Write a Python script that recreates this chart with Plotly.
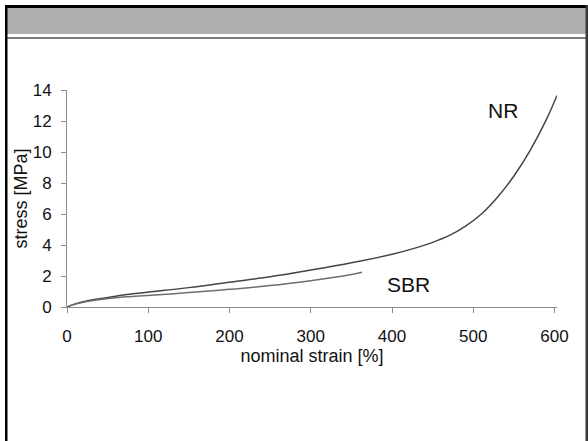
import plotly.graph_objects as go

# Data
nr_strain = [0, 10, 30, 60, 94, 150, 200, 250, 300, 350, 400, 425, 450, 470, 490, 510, 530, 550, 570, 590, 603]
nr_stress = [0, 0.2, 0.45, 0.7, 0.92, 1.25, 1.6, 1.95, 2.38, 2.85, 3.4, 3.75, 4.17, 4.6, 5.2, 6.0, 7.1, 8.45, 10.1, 12.1, 13.65]
sbr_strain = [0, 10, 30, 60, 94, 150, 200, 250, 300, 340, 363]
sbr_stress = [0, 0.18, 0.4, 0.6, 0.72, 0.93, 1.14, 1.38, 1.7, 2.0, 2.24]
x_ticks = [0, 100, 200, 300, 400, 500, 600]
y_ticks = [0, 2, 4, 6, 8, 10, 12, 14]
labels = ["NR", "SBR"]
label_pos = [(537, 12.7), (420, 1.42)]

W, H = 588, 441
L, R, T, B = 67, 31, 90, 134
pw, ph = W - L - R, H - T - B


def px(x):
    return (x - L) / pw


def py(y):
    return (H - B - y) / ph


fig = go.Figure()
fig.add_trace(go.Scatter(x=nr_strain, y=nr_stress, mode="lines",
                         line=dict(color="#444444", width=1.5, shape="spline", smoothing=1),
                         showlegend=False, hoverinfo="skip"))
fig.add_trace(go.Scatter(x=sbr_strain, y=sbr_stress, mode="lines",
                         line=dict(color="#6e6e6e", width=1.5, shape="spline", smoothing=1),
                         showlegend=False, hoverinfo="skip"))

for name, (ax, ay) in zip(labels, label_pos):
    fig.add_annotation(x=ax, y=ay, text=name, showarrow=False,
                       font=dict(family="Liberation Sans, Arial", size=21, color="#111111"))

shapes = [
    # header band
    dict(type="rect", xref="paper", yref="paper", x0=px(7), x1=px(586), y0=py(34), y1=py(8),
         fillcolor="#b0b0b0", line=dict(width=0), layer="below"),
    # thin gray rule under header
    dict(type="rect", xref="paper", yref="paper", x0=px(7), x1=px(586), y0=py(39), y1=py(37),
         fillcolor="#7a7a7a", line=dict(width=0), layer="below"),
    # top border
    dict(type="rect", xref="paper", yref="paper", x0=px(5), x1=px(588), y0=py(8), y1=py(5),
         fillcolor="#000000", line=dict(width=0), layer="below"),
    # left border
    dict(type="rect", xref="paper", yref="paper", x0=px(5), x1=px(7.5), y0=py(441), y1=py(5),
         fillcolor="#000000", line=dict(width=0), layer="below"),
    # right border
    dict(type="rect", xref="paper", yref="paper", x0=px(585.5), x1=px(588), y0=py(441), y1=py(5),
         fillcolor="#3a3a3a", line=dict(width=0), layer="below"),
]

fig.update_layout(
    width=W, height=H,
    margin=dict(l=L, r=R, t=T, b=B, pad=0),
    paper_bgcolor="white", plot_bgcolor="white",
    font=dict(family="Liberation Sans, Arial", color="#111111"),
    shapes=shapes,
    xaxis=dict(range=[0, 603], tickvals=x_ticks, ticks="outside", ticklen=5, tickcolor="#8c8c8c",
               showline=True, linecolor="#8c8c8c", linewidth=1, showgrid=False, zeroline=False,
               tickfont=dict(size=17), ticklabelstandoff=9,
               title=dict(text="nominal strain [%]", font=dict(size=18), standoff=0)),
    yaxis=dict(range=[0, 14], tickvals=y_ticks, ticks="outside", ticklen=5, tickcolor="#8c8c8c",
               showline=True, linecolor="#8c8c8c", linewidth=1, showgrid=False, zeroline=False,
               tickfont=dict(size=17), ticklabelstandoff=6,
               title=dict(text="stress [MPa]", font=dict(size=18), standoff=0)),
)

fig.write_html("out.html", config={"displayModeBar": False},
               post_script="document.body.style.margin='0';document.body.style.overflow='hidden';")
